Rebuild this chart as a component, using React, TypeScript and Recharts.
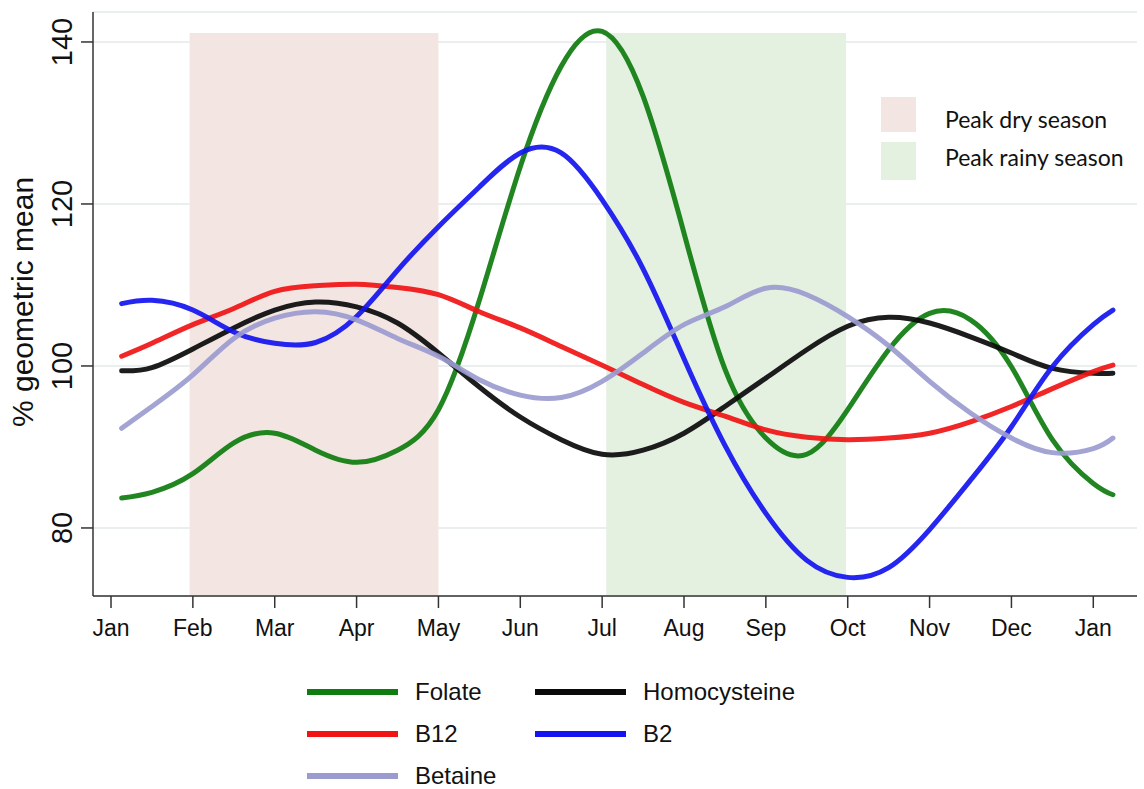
import React from 'react';
import { LineChart, Line, XAxis, YAxis, CartesianGrid, ReferenceArea, Label } from 'recharts';

// x positions in months since Jan (0 = Jan, 12 = next Jan)
const months = [0.13, 0.5, 1, 1.5, 2, 2.5, 3, 3.5, 4, 4.5, 5, 5.5, 6, 6.5, 7, 7.5, 8, 8.5, 9, 9.5, 10, 10.5, 11, 11.5, 12, 12.24];

const folate = [83.7, 84.4, 86.7, 90.5, 91.7, 89.6, 88.1, 89.6, 94.6, 108.1, 124.6, 137.0, 141.3, 133.3, 116.4, 99.6, 91.1, 89.1, 94.6, 102.0, 106.5, 105.7, 99.9, 90.9, 85.5, 84.1];
const homocysteine = [99.4, 99.8, 102.1, 104.7, 106.9, 107.9, 107.3, 105.3, 101.6, 97.4, 93.7, 90.9, 89.1, 89.6, 91.7, 95.0, 98.5, 102.0, 104.9, 106.0, 105.3, 103.6, 101.6, 99.7, 99.1, 99.1];
const b12 = [101.2, 102.8, 105.1, 107.1, 109.2, 109.9, 110.1, 109.7, 108.8, 106.7, 104.7, 102.4, 100.1, 97.7, 95.5, 93.8, 92.1, 91.2, 90.9, 91.1, 91.7, 93.1, 95.0, 97.2, 99.3, 100.1];
const b2 = [107.7, 108.1, 106.9, 104.2, 102.8, 102.9, 106.1, 111.8, 117.2, 122.1, 126.3, 126.3, 120.5, 112.0, 100.9, 90.2, 81.8, 76.0, 73.9, 75.1, 79.8, 85.9, 92.5, 99.9, 105.1, 106.9];
const betaine = [92.3, 95.0, 98.9, 103.4, 105.9, 106.7, 105.7, 103.4, 101.2, 98.3, 96.4, 96.1, 98.1, 101.6, 105.1, 107.3, 109.6, 108.8, 106.1, 102.5, 98.1, 94.2, 91.1, 89.3, 89.8, 91.1];

const monthTicks = [0, 1, 2, 3, 4, 5, 6, 7, 8, 9, 10, 11, 12];
const monthLabels = ['Jan', 'Feb', 'Mar', 'Apr', 'May', 'Jun', 'Jul', 'Aug', 'Sep', 'Oct', 'Nov', 'Dec', 'Jan'];
const yTicks = [80, 100, 120, 140];

const drySeason = [0.96, 4.0];
const rainySeason = [6.05, 8.98];
const seasonTop = 141.1;

const data = months.map((m, i) => ({
  month: m,
  folate: folate[i],
  homocysteine: homocysteine[i],
  b12: b12[i],
  b2: b2[i],
  betaine: betaine[i],
}));

const series = [
  { key: 'folate', name: 'Folate', color: '#0e7c0e' },
  { key: 'homocysteine', name: 'Homocysteine', color: '#0a0a0a' },
  { key: 'b12', name: 'B12', color: '#f01414' },
  { key: 'b2', name: 'B2', color: '#1414f0' },
  { key: 'betaine', name: 'Betaine', color: '#9b9bd0' },
];

const DRY = '#f3e6e2';
const RAINY = '#e4f0e0';
const ARIAL = '"Liberation Sans", Arial, sans-serif';

const YTick = (props: any) => {
  const { x, y, payload } = props;
  return (
    <text
      x={x}
      y={y}
      transform={`rotate(-90, ${x}, ${y})`}
      textAnchor="middle"
      fontSize={29}
      fontFamily={ARIAL}
      fill="#111"
    >
      {payload.value}
    </text>
  );
};

const YTitle = (props: any) => {
  const { viewBox } = props;
  const cx = 33;
  const cy = viewBox.y + viewBox.height / 2 - 2;
  return (
    <text
      x={cx}
      y={cy}
      transform={`rotate(-90, ${cx}, ${cy})`}
      textAnchor="middle"
      fontSize={30}
      fontFamily={ARIAL}
      fill="#111"
    >
      % geometric mean
    </text>
  );
};

export default function App() {
  // legend order: two columns, row by row
  const legendRows = [
    [series[0], series[1]],
    [series[2], series[3]],
    [series[4]],
  ];

  const seasonText = { position: 'absolute' as const, left: 945, fontFamily: 'Lato, "Open Sans", sans-serif', fontSize: 23, lineHeight: '23px', color: '#111', whiteSpace: 'nowrap' as const };

  return (
    <div style={{ position: 'absolute', left: 0, top: 0, width: 1144, height: 789, background: '#fff' }}>
      <LineChart
        width={1144}
        height={789}
        data={data}
        margin={{ top: 12, right: 7, left: 0, bottom: 153 }}
      >
        <ReferenceArea x1={drySeason[0]} x2={drySeason[1]} y1={71.6} y2={seasonTop} fill={DRY} fillOpacity={1} stroke="none" />
        <ReferenceArea x1={rainySeason[0]} x2={rainySeason[1]} y1={71.6} y2={seasonTop} fill={RAINY} fillOpacity={1} stroke="none" />
        <CartesianGrid vertical={false} stroke="#dfe4e4" strokeOpacity={0.8} strokeWidth={1.5} />
        <XAxis
          dataKey="month"
          type="number"
          domain={[-0.22, 12.534]}
          ticks={monthTicks}
          tickFormatter={(v: number) => monthLabels[v]}
          interval={0}
          height={40}
          tickSize={12}
          tickMargin={12}
          stroke="#333"
          strokeWidth={1.5}
          tick={{ fontSize: 23, fontFamily: ARIAL, fill: '#111' }}
          allowDataOverflow
        />
        <YAxis
          type="number"
          domain={[71.6, 143.7]}
          ticks={yTicks}
          width={93}
          tickSize={12}
          tickMargin={9}
          stroke="#333"
          strokeWidth={1.5}
          tick={<YTick />}
          allowDataOverflow
        >
          <Label content={<YTitle />} />
        </YAxis>
        {series.map((s) => (
          <Line
            key={s.key}
            type="natural"
            dataKey={s.key}
            name={s.name}
            stroke={s.color}
            strokeWidth={5}
            strokeOpacity={0.92}
            strokeLinecap="round"
            dot={false}
            activeDot={false}
            isAnimationActive={false}
          />
        ))}
      </LineChart>

      {/* season legend inside the plot */}
      <div style={{ position: 'absolute', left: 881, top: 97, width: 35, height: 35, background: DRY }} />
      <div style={{ position: 'absolute', left: 881, top: 142, width: 35, height: 38, background: RAINY }} />
      <div style={{ ...seasonText, top: 108 }}>Peak dry season</div>
      <div style={{ ...seasonText, top: 146 }}>Peak rainy season</div>

      {/* series legend below the chart */}
      <div style={{ position: 'absolute', left: 307, top: 671, fontFamily: ARIAL, fontSize: 24, color: '#111' }}>
        {legendRows.map((row, r) => (
          <div key={r} style={{ display: 'flex', height: 42, alignItems: 'center' }}>
            {row.map((s, c) => (
              <div key={s.key} style={{ display: 'flex', alignItems: 'center', width: c === 0 ? 228 : 320 }}>
                <div style={{ width: 91, height: 6, background: s.color }} />
                <span style={{ marginLeft: 17 }}>{s.name}</span>
              </div>
            ))}
          </div>
        ))}
      </div>
    </div>
  );
}
